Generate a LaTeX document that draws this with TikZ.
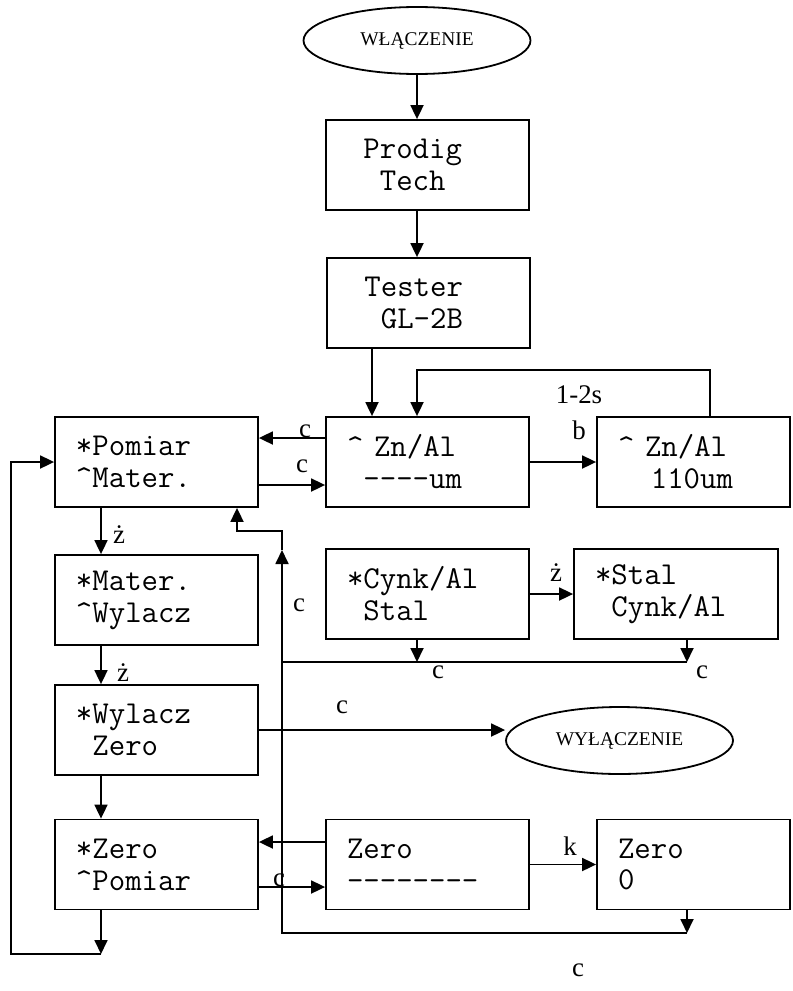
\documentclass[tikz,border=0pt]{standalone}
\usepackage{fontspec}
\setmainfont{Liberation Serif}
\usetikzlibrary{arrows.meta,shapes.geometric}

\tikzset{
  screen/.style={draw, line width=1.8bp, rectangle, minimum height=90bp,
    inner xsep=21bp, inner ysep=2bp, text width=#1, align=left,
    font=\ttfamily\fontsize{32}{32}\selectfont},
  screen/.default=161bp,
  terminal/.style={draw, ellipse, line width=1.8bp, minimum width=227bp,
    minimum height=67bp, inner sep=0pt, font=\fontsize{19.5}{20}\selectfont},
  flow/.style={line width=1.8bp, -{Triangle[length=14bp,width=13bp]}},
  link/.style={line width=1.8bp},
  lbl/.style={font=\fontsize{27}{27}\selectfont, inner sep=0pt},
}

\begin{document}
\begin{tikzpicture}[x=1bp,y=-1bp]
\useasboundingbox (0,0) rectangle (793,991);

% states of the display
\node[terminal] (on) at (417,40.5) {WŁĄCZENIE};
\node[screen] (prodig) at (427.5,165) {\phantom{0}Prodig\\\phantom{00}Tech};
\node[screen] (tester) at (428.5,303) {\phantom{0}Tester\\\phantom{00}GL-2B};
\node[screen] (pomiar) at (156.5,462) {*Pomiar\\\textasciicircum{}Mater.};
\node[screen] (zn) at (427.5,462) {\textasciicircum{}\ Zn/Al\\\phantom{0}-{}-{}-{}-um};
\node[screen=151bp] (hold) at (693.5,462) {\textasciicircum{}\ Zn/Al\\\phantom{00}110um};
\node[screen] (mater) at (156.5,600) {*Mater.\\\textasciicircum{}Wylacz};
\node[screen] (cynk) at (427.5,594) {*Cynk/Al\\\phantom{0}Stal};
\node[screen=162bp] (stal) at (676,594) {*Stal\\\phantom{0}Cynk/Al};
\node[screen] (wyl) at (156.5,730) {*Wylacz\\\phantom{0}Zero};
\node[terminal] (off) at (619.5,740.5) {WYŁĄCZENIE};
\node[screen] (zset) at (156.5,864.5) {*Zero\\\textasciicircum{}Pomiar};
\node[screen] (zrun) at (427.5,864.5) {Zero\\-{}-{}-{}-{}-{}-{}-{}-};
\node[screen=151bp] (zdone) at (693.5,864.5) {Zero\\0};

% routing points
\coordinate (drop) at (372,0);
\coordinate (fb) at (710,370);
\coordinate (rowA) at (0,438);
\coordinate (rowB) at (0,485);
\coordinate (col) at (101,0);
\coordinate (zr1) at (0,842);
\coordinate (zr2) at (0,887);
\coordinate (dropR) at (687,933);
\coordinate (busLow) at (282,933);
\coordinate (busMid) at (282,662);
\coordinate (busTip) at (282,550);
\coordinate (busTop) at (282,531);
\coordinate (hook) at (237,531);
\coordinate (jc) at (417,662);
\coordinate (js) at (687,662);
\coordinate (loopA) at (101,954);
\coordinate (loopB) at (11,954);

% start-up sequence
\draw[flow] (on.south) -- (on.south |- prodig.north);
\draw[flow] (prodig.south -| on.south) -- (tester.north -| on.south);
\draw[flow] (tester.south -| drop) -- (zn.north -| drop);
\draw[flow] (hold.north -| fb) -- (fb) -- (fb -| on.south) -- (zn.north -| on.south);
\node[lbl] at (579,395) {1-2s};

% measurement
\draw[flow] (zn.west |- rowA) -- (pomiar.east |- rowA);
\node[lbl] at (305,431) {c};
\draw[flow] (pomiar.east |- rowB) -- (zn.west |- rowB);
\node[lbl] at (302,466) {c};
\draw[flow] (zn.east) -- (hold.west);
\node[lbl] at (579,430) {b};

% main menu
\draw[flow] (pomiar.south -| col) -- (mater.north -| col);
\node[lbl] at (119,535) {ż};
\draw[flow] (mater.south -| col) -- (wyl.north -| col);
\node[lbl] at (123,673) {ż};
\draw[flow] (wyl.south -| col) -- (zset.north -| col);
\draw[flow] (wyl.east) -- (wyl.east -| off.west);
\node[lbl] at (342,707) {c};

% material choice
\draw[flow] (cynk.east) -- (stal.west);
\node[lbl] at (556,573) {ż};
\draw[flow] (cynk.south -| jc) -- (jc);
\draw[flow] (stal.south -| js) -- (js);
\draw[link] (js) -- (jc) -- (busMid);
\node[lbl] at (438,672) {c};
\node[lbl] at (702,672) {c};
\node[lbl] at (299,605) {c};

% zeroing
\draw[flow] (zrun.west |- zr1) -- (zset.east |- zr1);
\draw[flow] (zset.east |- zr2) -- (zrun.west |- zr2);
\node[lbl] at (279,880) {c};
\draw[flow] (zrun.east) -- (zdone.west);
\node[lbl] at (570,846) {k};
\draw[flow] (zdone.south -| dropR) -- (dropR);
\node[lbl] at (578,970) {c};

% return bus back to the measurement screen
\draw[flow] (dropR) -- (busLow) -- (busTip);
\draw[flow] (busTip) -- (busTop) -- (hook) -- (pomiar.south -| hook);

% loop from the zero menu back to the top
\draw[flow] (zset.south -| col) -- (loopA);
\draw[flow] (loopA) -- (loopB) -- (loopB |- pomiar.west) -- (pomiar.west);
\end{tikzpicture}
\end{document}
